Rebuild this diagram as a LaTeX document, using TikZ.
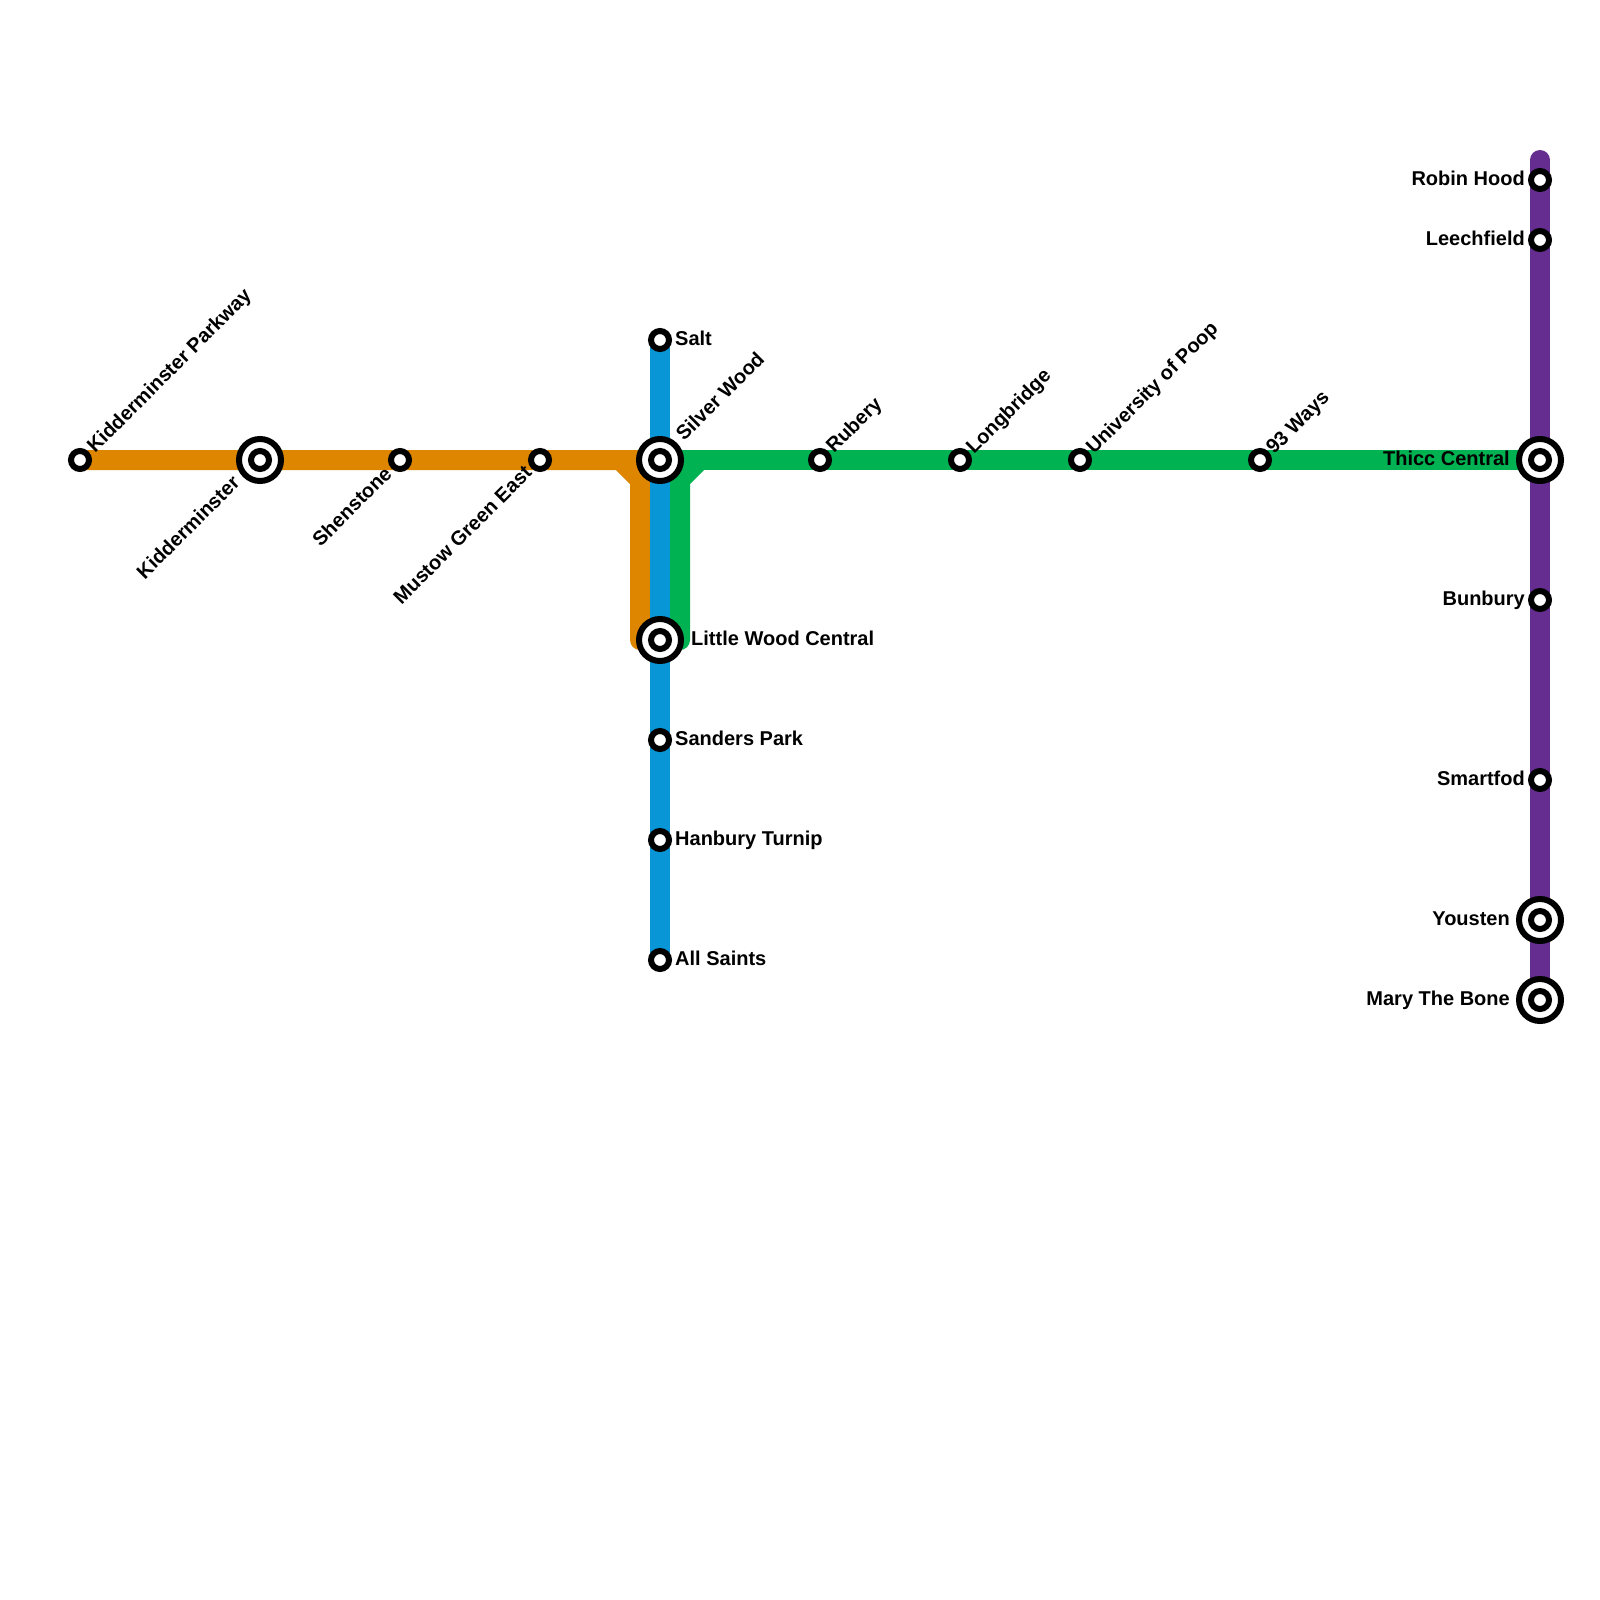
\documentclass[tikz,border=0pt]{standalone}
\usepackage{fontspec}
\setmainfont{Liberation Sans}
\usetikzlibrary{backgrounds}
\definecolor{lorange}{HTML}{DF8600}
\definecolor{lgreen}{HTML}{00B251}
\definecolor{lblue}{HTML}{0896D7}
\definecolor{lpurple}{HTML}{662D91}
\tikzset{
  stn/.style={circle,draw=black,fill=white,line width=6pt,inner sep=0pt,minimum size=18pt},
  hub/.style={circle,draw=black,fill=white,line width=6pt,inner sep=0pt,minimum size=42pt},
  route/.style={line width=20pt,line join=round},
  txt/.style={inner sep=0pt,font=\bfseries\fontsize{20}{22}\selectfont,text=black},
  lblE/.style={txt,anchor=base west},
  lblW/.style={txt,anchor=base east},
  lblNE/.style={txt,anchor=base west,rotate=45},
  lblSW/.style={txt,anchor=base east,rotate=45}
}
\begin{document}
\begin{tikzpicture}[x=1pt,y=-1pt]
\useasboundingbox (0,0) rectangle (1600,1600);
% stations
\node[stn] (kp) at (80,460) {};
\node[hub] (kid) at (260,460) {}; \node[stn] (kidi) at (260,460) {};
\node[stn] (she) at (400,460) {};
\node[stn] (mus) at (540,460) {};
\node[stn] (sal) at (660,340) {};
\node[hub] (sil) at (660,460) {}; \node[stn] (sili) at (660,460) {};
\node[hub] (lit) at (660,640) {}; \node[stn] (liti) at (660,640) {};
\node[stn] (san) at (660,740) {};
\node[stn] (han) at (660,840) {};
\node[stn] (all) at (660,960) {};
\node[stn] (rub) at (820,460) {};
\node[stn] (lon) at (960,460) {};
\node[stn] (uni) at (1080,460) {};
\node[stn] (way) at (1260,460) {};
\node[hub] (thi) at (1540,460) {}; \node[stn] (thii) at (1540,460) {};
\coordinate (ptop) at (1540,160);
\node[stn] (rob) at (1540,180) {};
\node[stn] (lee) at (1540,240) {};
\node[stn] (bun) at (1540,600) {};
\node[stn] (sma) at (1540,780) {};
\node[hub] (you) at (1540,920) {}; \node[stn] (youi) at (1540,920) {};
\node[hub] (mar) at (1540,1000) {}; \node[stn] (mari) at (1540,1000) {};
% routes
\begin{scope}[on background layer]
\draw[route,lorange] (kp.center) -- (kid.center) -- (she.center) -- (mus.center) -- (620,460) -- (640,480) -- (640,640) -- (lit.center);
\draw[route,lorange] (mus.center) -- (sil.center);
\draw[route,lgreen] (sil.center) -- (rub.center) -- (lon.center) -- (uni.center) -- (way.center) -- (thi.center);
\draw[route,lgreen] (700,460) -- (680,480) -- (680,640) -- (lit.center);
\draw[route,lblue] (sal.center) -- (sil.center) -- (lit.center) -- (san.center) -- (han.center) -- (all.center);
\draw[route,lpurple,line cap=round] (ptop) -- (rob.center) -- (lee.center) -- (thi.center) -- (bun.center) -- (sma.center) -- (you.center) -- (mar.center);
\end{scope}
% labels
\node[lblNE] (t1) at ([shift={(15,-6)}]kp) {Kidderminster Parkway};
\node[lblSW] (t2) at ([shift={(-19,24)}]kid) {Kidderminster};
\node[lblSW] (t3) at ([shift={(-7,15)}]she) {Shenstone};
\node[lblSW] (t4) at ([shift={(-7,14)}]mus) {Mustow Green East};
\node[lblNE] (t5) at ([shift={(24,-18)}]sil) {Silver Wood};
\node[lblNE] (t6) at ([shift={(14,-6)}]rub) {Rubery};
\node[lblNE] (t7) at ([shift={(14,-5)}]lon) {Longbridge};
\node[lblNE] (t8) at ([shift={(14,-5)}]uni) {University of Poop};
\node[lblNE] (t9) at ([shift={(14,-5)}]way) {93 Ways};
\node[lblE] (t10) at ([shift={(15,5)}]sal) {Salt};
\node[lblE] (t11) at ([shift={(31,5)}]lit) {Little Wood Central};
\node[lblE] (t12) at ([shift={(15,5)}]san) {Sanders Park};
\node[lblE] (t13) at ([shift={(15,5)}]han) {Hanbury Turnip};
\node[lblE] (t14) at ([shift={(15,5)}]all) {All Saints};
\node[lblW] (t15) at ([shift={(-15,5)}]rob) {Robin Hood};
\node[lblW] (t16) at ([shift={(-15,5)}]lee) {Leechfield};
\node[lblW] (t17) at ([shift={(-30,5)}]thi) {Thicc Central};
\node[lblW] (t18) at ([shift={(-15,5)}]bun) {Bunbury};
\node[lblW] (t19) at ([shift={(-15,5)}]sma) {Smartfod};
\node[lblW] (t20) at ([shift={(-30,5)}]you) {Yousten};
\node[lblW] (t21) at ([shift={(-30,5)}]mar) {Mary The Bone};
\end{tikzpicture}
\end{document}
